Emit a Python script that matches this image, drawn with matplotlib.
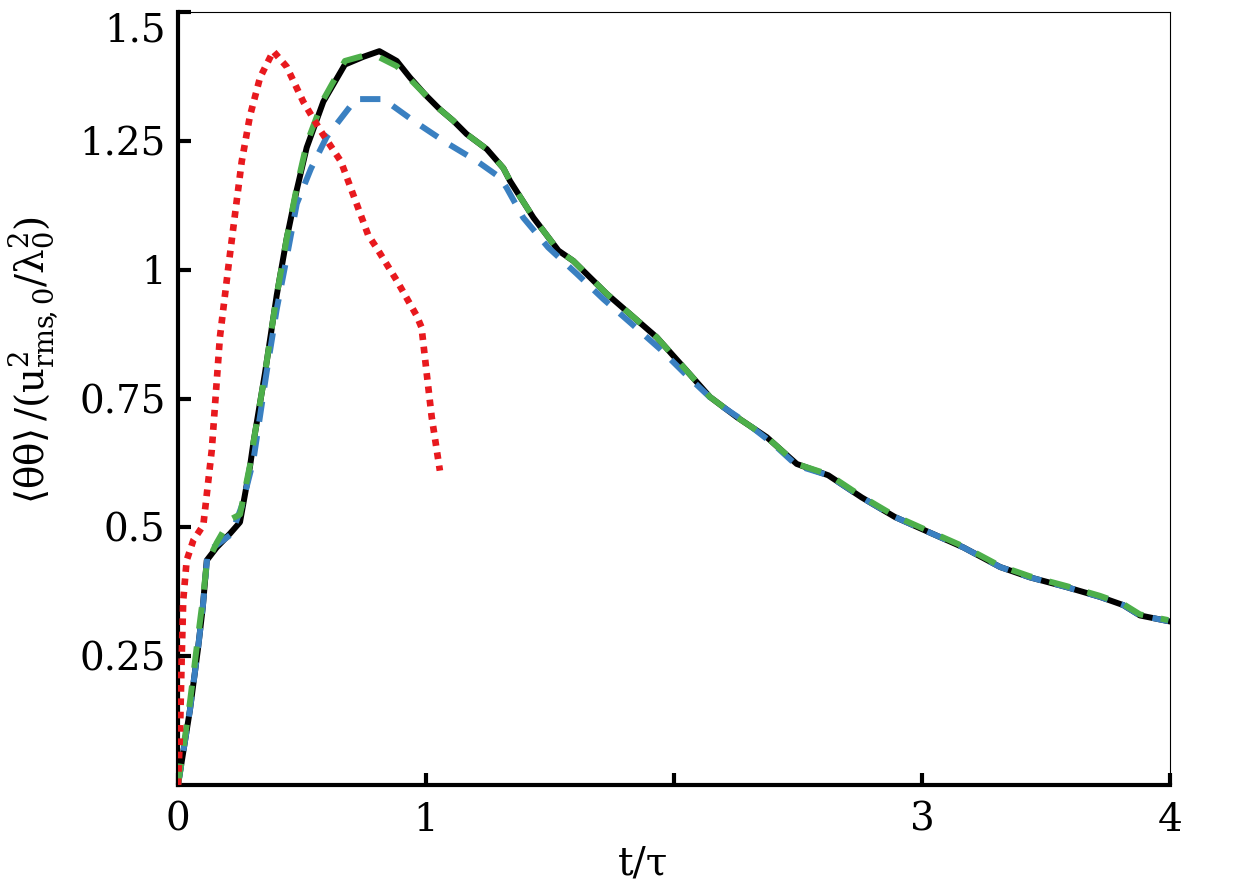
import numpy as np
import matplotlib
matplotlib.use("Agg")
import matplotlib.pyplot as plt
from matplotlib import rcParams

rcParams["font.family"] = ["DejaVu Serif", "DejaVu Sans"]
rcParams["mathtext.fontset"] = "dejavuserif"
rcParams.update({"font.size": 28})

# black solid
t_black = [0, 0.048, 0.08, 0.10, 0.116, 0.156, 0.21, 0.25, 0.29, 0.304, 0.351, 0.398, 0.438, 0.479,
           0.519, 0.586, 0.673, 0.747, 0.812, 0.882, 0.935, 0.996, 1.056, 1.11, 1.164, 1.245, 1.312,
           1.339, 1.433, 1.534, 1.594, 1.729, 1.93, 2.051, 2.145, 2.253, 2.374, 2.495, 2.622, 2.757,
           2.891, 3.026, 3.167, 3.315, 3.435, 3.583, 3.718, 3.812, 3.879, 3.993]
v_black = [0, 0.145, 0.262, 0.345, 0.436, 0.461, 0.488, 0.51, 0.617, 0.664, 0.80, 0.95, 1.06, 1.155,
           1.237, 1.326, 1.398, 1.413, 1.424, 1.405, 1.373, 1.34, 1.311, 1.289, 1.263, 1.234, 1.197,
           1.172, 1.101, 1.037, 1.017, 0.953, 0.869, 0.804, 0.753, 0.714, 0.675, 0.623, 0.601, 0.558,
           0.52, 0.491, 0.461, 0.423, 0.403, 0.384, 0.365, 0.349, 0.329, 0.318]

# green dashed
t_green = [0, 0.048, 0.08, 0.10, 0.116, 0.156, 0.21, 0.25, 0.29, 0.304, 0.351, 0.398, 0.438, 0.479,
           0.519, 0.586, 0.673, 0.747, 0.812, 0.882, 0.935, 0.996, 1.056, 1.11, 1.164, 1.245, 1.312,
           1.339, 1.433, 1.534, 1.594, 1.729, 1.93, 2.051, 2.145, 2.253, 2.374, 2.495, 2.622, 2.757,
           2.891, 3.026, 3.167, 3.315, 3.435, 3.583, 3.718, 3.812, 3.879, 3.993]
v_green = [0, 0.16, 0.285, 0.36, 0.43, 0.47, 0.515, 0.525, 0.62, 0.664, 0.80, 0.95, 1.06, 1.16,
           1.245, 1.33, 1.405, 1.415, 1.412, 1.395, 1.37, 1.34, 1.311, 1.289, 1.263, 1.234, 1.197,
           1.172, 1.101, 1.037, 1.017, 0.953, 0.869, 0.804, 0.753, 0.714, 0.675, 0.623, 0.603, 0.56,
           0.522, 0.493, 0.463, 0.425, 0.405, 0.386, 0.367, 0.351, 0.331, 0.32]

# blue dashed
t_blue = [0, 0.048, 0.08, 0.10, 0.12, 0.216, 0.257, 0.304, 0.357, 0.398, 0.431, 0.479, 0.536, 0.60,
          0.698, 0.718, 0.828, 0.949, 1.083, 1.204, 1.298, 1.325, 1.392, 1.493, 1.608, 1.715, 1.829,
          1.944, 2.051, 2.159, 2.28, 2.40, 2.495, 2.622, 2.757, 2.891, 3.026, 3.167, 3.315, 3.435,
          3.583, 3.718, 3.812, 3.879, 3.993]
v_blue = [0, 0.145, 0.262, 0.345, 0.453, 0.487, 0.541, 0.63, 0.80, 0.923, 1.005, 1.128, 1.196, 1.258,
          1.319, 1.331, 1.331, 1.289, 1.246, 1.211, 1.179, 1.159, 1.101, 1.043, 0.992, 0.943, 0.895,
          0.846, 0.795, 0.746, 0.707, 0.662, 0.62, 0.601, 0.558, 0.52, 0.491, 0.461, 0.423, 0.403,
          0.384, 0.365, 0.349, 0.329, 0.318]

# red dotted
t_red = [0, 0.008, 0.015, 0.021, 0.035, 0.062, 0.102, 0.136, 0.169, 0.203, 0.23, 0.257, 0.29, 0.331,
         0.384, 0.438, 0.505, 0.573, 0.657, 0.72, 0.767, 0.80, 0.882, 0.962, 0.982, 1.003, 1.023, 1.056]
v_red = [0, 0.10, 0.249, 0.358, 0.436, 0.475, 0.504, 0.649, 0.869, 1.005, 1.108, 1.21, 1.298, 1.373,
         1.424, 1.394, 1.326, 1.271, 1.21, 1.128, 1.067, 1.043, 0.979, 0.911, 0.888, 0.798, 0.714, 0.61]

xticks = [0, 1, 2, 3, 4]
xticklabels = ["0", "1", "", "3", "4"]
yticks = [0.25, 0.5, 0.75, 1, 1.25, 1.5]
yticklabels = ["0.25", "0.5", "0.75", "1", "1.25", "1.5"]

fig = plt.figure(figsize=(12.4, 8.86), dpi=100)
ax = fig.add_axes([178 / 1240, 1 - 785 / 886, 992 / 1240, 773 / 886])

ax.plot(t_black, v_black, color="black", lw=4.3, solid_joinstyle="round", zorder=2)
ax.plot(t_blue, v_blue, color="#3a80c1", lw=4.3, dashes=(3.4, 2.4), dash_capstyle="butt", zorder=3)
ax.plot(t_green, v_green, color="#4daf4a", lw=4.3, dashes=(3.6, 3.0), dash_capstyle="butt", zorder=4)
ax.plot(t_red, v_red, color="#e8191e", lw=4.8, dashes=(1.0, 1.0), dash_capstyle="butt", zorder=5)

ax.set_xlim(0, 4)
ax.set_ylim(0, 1.5)
ax.set_xticks(xticks)
ax.set_xticklabels(xticklabels)
ax.set_yticks(yticks)
ax.set_yticklabels(yticklabels)
# top label sits below its tick so it stays inside the figure
ax.get_yticklabels()[-1].set_va("top")

ax.spines["left"].set_linewidth(3)
ax.spines["bottom"].set_linewidth(3)
ax.spines["top"].set_linewidth(0.8)
ax.spines["right"].set_linewidth(0.8)
ax.tick_params(axis="both", direction="in", width=3, length=9)
ax.tick_params(axis="y", pad=9)
ax.tick_params(axis="x", pad=12)

ax.set_xlabel("t/τ")
ax.xaxis.set_label_coords(0.469, -0.078)
ax.set_ylabel(r"$\langle\mathrm{\theta\theta}\rangle\,/(\mathrm{u}^2_{\mathrm{rms}\!,\mathrm{0}}/\mathrm{\lambda}^2_0)$")
ax.yaxis.set_label_coords(-0.118, 0.55)

fig.savefig("out.png", dpi=100)
